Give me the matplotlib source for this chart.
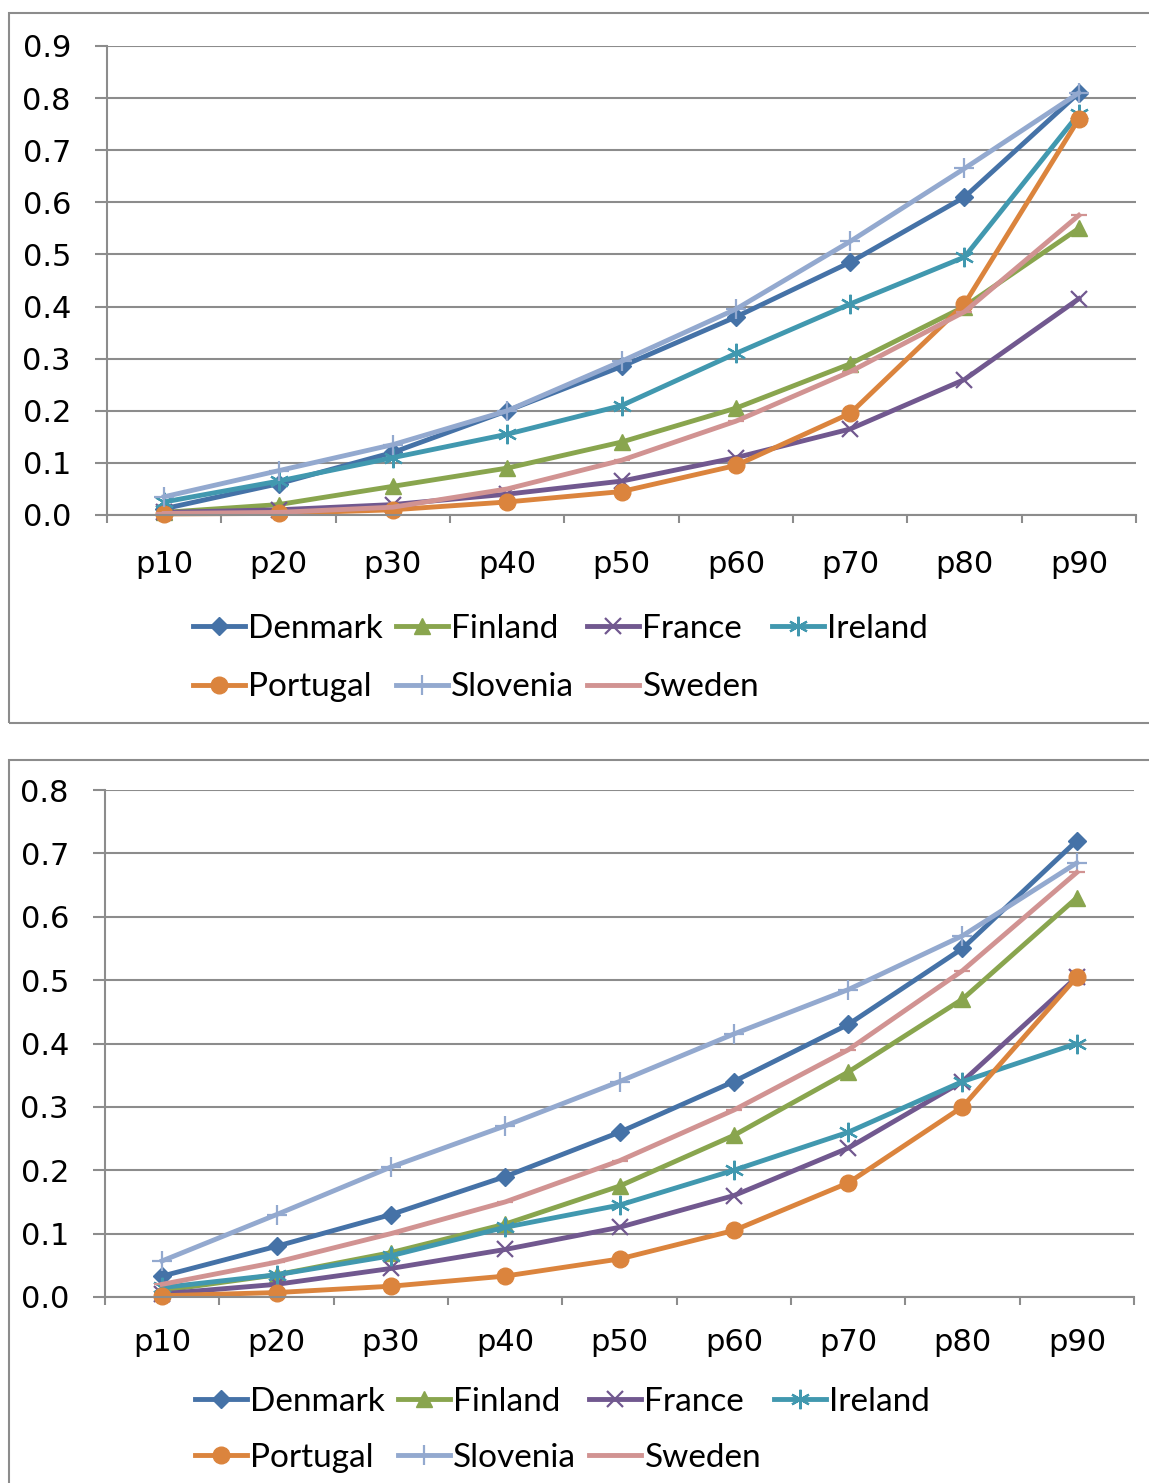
import numpy as np
import matplotlib
matplotlib.use("Agg")
import matplotlib.pyplot as plt
from matplotlib.patches import Rectangle

# categories and series
percentiles = ['p10', 'p20', 'p30', 'p40', 'p50', 'p60', 'p70', 'p80', 'p90']
countries = ['Denmark', 'Finland', 'France', 'Ireland', 'Portugal', 'Slovenia', 'Sweden']

top_denmark = [0.012, 0.06, 0.12, 0.20, 0.285, 0.38, 0.485, 0.61, 0.81]
top_finland = [0.005, 0.02, 0.055, 0.09, 0.14, 0.205, 0.29, 0.40, 0.55]
top_france = [0.005, 0.01, 0.02, 0.04, 0.065, 0.11, 0.165, 0.26, 0.415]
top_ireland = [0.025, 0.065, 0.11, 0.155, 0.21, 0.31, 0.405, 0.495, 0.77]
top_portugal = [0.002, 0.003, 0.01, 0.025, 0.045, 0.095, 0.195, 0.405, 0.76]
top_slovenia = [0.035, 0.085, 0.135, 0.20, 0.295, 0.395, 0.525, 0.665, 0.81]
top_sweden = [0.003, 0.005, 0.015, 0.05, 0.105, 0.18, 0.275, 0.39, 0.575]

bot_denmark = [0.033, 0.08, 0.13, 0.19, 0.26, 0.34, 0.43, 0.55, 0.72]
bot_finland = [0.01, 0.035, 0.07, 0.115, 0.175, 0.255, 0.355, 0.47, 0.63]
bot_france = [0.005, 0.02, 0.045, 0.075, 0.11, 0.16, 0.235, 0.34, 0.505]
bot_ireland = [0.015, 0.035, 0.065, 0.11, 0.145, 0.20, 0.26, 0.34, 0.40]
bot_portugal = [0.002, 0.007, 0.017, 0.033, 0.06, 0.105, 0.18, 0.30, 0.505]
bot_slovenia = [0.057, 0.13, 0.205, 0.27, 0.34, 0.415, 0.485, 0.57, 0.685]
bot_sweden = [0.02, 0.055, 0.10, 0.15, 0.215, 0.295, 0.39, 0.515, 0.67]

top_series = [top_denmark, top_finland, top_france, top_ireland, top_portugal, top_slovenia, top_sweden]
bot_series = [bot_denmark, bot_finland, bot_france, bot_ireland, bot_portugal, bot_slovenia, bot_sweden]

colors = ['#4572A7', '#89A54E', '#71588F', '#4198AF', '#DB843D', '#93A9CF', '#D19392']
markers = ['D', '^', 'x', (6, 2, 0), 'o', '+', '_']
msizes = [9, 11, 11, 14, 12, 14, 12]

W, H = 1149, 1483
fig = plt.figure(figsize=(W / 100, H / 100), dpi=100)

grid_col = '#8c8c8c'


def draw_panel(rect, series, ymax, box, legend_xy, xpad, rowgap):
    # outer chart frame
    bx0, by0, bx1, by1 = box
    fig.patches.append(Rectangle((bx0 / W, 1 - by1 / H), (bx1 - bx0) / W, (by1 - by0) / H,
                                 transform=fig.transFigure, fill=False,
                                 edgecolor=grid_col, lw=1.5, zorder=0))
    ax = fig.add_axes(rect)
    x = np.arange(len(percentiles))
    handles = []
    for vals, c, m, ms, name in zip(series, colors, markers, msizes, countries):
        h, = ax.plot(x, vals, color=c, lw=3.5, marker=m, markersize=ms,
                     markeredgewidth=1.6 if m in ('x', '+', '_', (6, 2, 0)) else 1,
                     markeredgecolor=c, label=name, clip_on=False)
        handles.append(h)
    ax.set_xlim(-0.5, len(percentiles) - 0.5)
    ax.set_ylim(0, ymax)
    ax.set_yticks(np.arange(0, ymax + 0.001, 0.1))
    ax.set_yticklabels(['%.1f' % v for v in np.arange(0, ymax + 0.001, 0.1)])
    ax.set_xticks(x)
    ax.set_xticklabels(percentiles)
    ax.set_xticks(np.arange(-0.5, len(percentiles)), minor=True)
    ax.tick_params(axis='x', which='major', length=0, pad=xpad, labelsize=22)
    ax.tick_params(axis='x', which='minor', length=6, width=1.5, color=grid_col)
    ax.tick_params(axis='y', length=9, width=1.5, color=grid_col, pad=17, labelsize=22)
    ax.grid(axis='y', color=grid_col, lw=1.5)
    ax.set_axisbelow(True)
    for s in ('top', 'right'):
        ax.spines[s].set_visible(False)
    for s in ('left', 'bottom'):
        ax.spines[s].set_color(grid_col)
        ax.spines[s].set_linewidth(1.5)
    # legend laid out in two rows of four
    order = [0, 4, 1, 5, 2, 6, 3]
    fig.legend([handles[i] for i in order], [countries[i] for i in order],
               loc='upper left', bbox_to_anchor=(legend_xy[0] / W, 1 - legend_xy[1] / H),
               ncol=4, frameon=False, handlelength=1.55, handletextpad=0.1,
               columnspacing=0.4, labelspacing=rowgap, borderaxespad=0, borderpad=0,
               prop={'family': 'Lato', 'size': 24})
    return ax


draw_panel([107 / W, 1 - 515 / H, 1029 / W, 469 / H], top_series, 0.9,
           (9, 13, 1160, 723), (193, 614), 25, 0.85)
draw_panel([105 / W, 1 - 1297 / H, 1029 / W, 507 / H], bot_series, 0.8,
           (9, 760, 1160, 1500), (195, 1387), 22, 0.78)

fig.savefig('out.png', dpi=100)
